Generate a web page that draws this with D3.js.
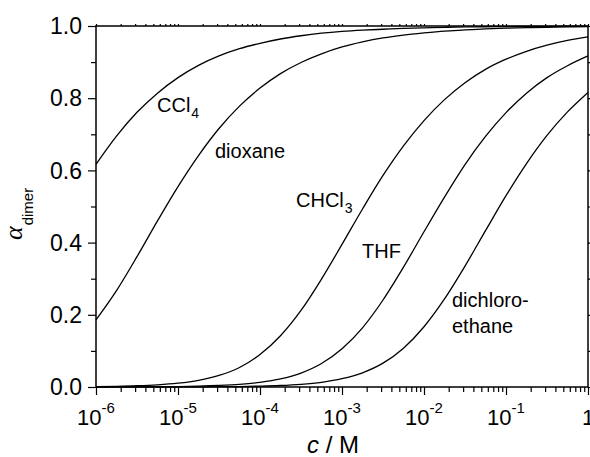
<!DOCTYPE html>
<html>
<head>
<meta charset="utf-8">
<script src="https://cdn.jsdelivr.net/npm/d3@7/dist/d3.min.js"></script>
<style>
  html, body { margin: 0; padding: 0; background: #fff; }
  svg { display: block; font-family: "Liberation Sans", Arial, sans-serif; }
</style>
</head>
<body>
<svg id="chart" width="590" height="457"></svg>
<script>
// Concentration grid (log10 of c / M), quarter-decade steps
const logConc = [-6, -5.75, -5.5, -5.25, -5, -4.75, -4.5, -4.25, -4, -3.75, -3.5, -3.25,
                 -3, -2.75, -2.5, -2.25, -2, -1.75, -1.5, -1.25, -1, -0.75, -0.5, -0.25, 0];

// Fraction of molecules in the dimer, per solvent
const alphaCCl4 = [0.617, 0.695, 0.761, 0.814, 0.857, 0.891, 0.917, 0.937, 0.952, 0.964, 0.973, 0.980,
                   0.985, 0.9885, 0.991, 0.9935, 0.995, 0.9964, 0.9973, 0.9979, 0.9985, 0.9988, 0.9991, 0.9993, 0.9995];
const alphaDioxane = [0.186, 0.267, 0.361, 0.460, 0.555, 0.641, 0.716, 0.778, 0.828, 0.868, 0.899, 0.923,
                      0.942, 0.956, 0.967, 0.975, 0.981, 0.986, 0.989, 0.992, 0.994, 0.9955, 0.9966, 0.9975, 0.9981];
const alphaCHCl3 = [0.0011, 0.0019, 0.0034, 0.0060, 0.0106, 0.0185, 0.032, 0.054, 0.090, 0.142, 0.212, 0.299,
                    0.395, 0.493, 0.586, 0.668, 0.738, 0.796, 0.843, 0.880, 0.908, 0.930, 0.947, 0.960, 0.970];
const alphaTHF = [0.0001, 0.0002, 0.0004, 0.0007, 0.0013, 0.0023, 0.0042, 0.0073, 0.0129, 0.0224, 0.0386, 0.065,
                  0.106, 0.164, 0.241, 0.332, 0.430, 0.526, 0.616, 0.694, 0.760, 0.814, 0.857, 0.890, 0.917];
const alphaDCE = [0.0000, 0.0001, 0.0001, 0.0001, 0.0002, 0.0004, 0.0008, 0.0013, 0.0024, 0.0042, 0.0075, 0.0131,
                  0.0229, 0.0394, 0.066, 0.1075, 0.167, 0.244, 0.335, 0.433, 0.530, 0.619, 0.697, 0.762, 0.816];

const seriesValues = [alphaCCl4, alphaDioxane, alphaCHCl3, alphaTHF, alphaDCE];

// Axis ticks
const xMajorExp = [-6, -5, -4, -3, -2, -1, 0];
const yMajor = [0.0, 0.2, 0.4, 0.6, 0.8, 1.0];
const yMinor = [0.1, 0.3, 0.5, 0.7, 0.9];

const svg = d3.select("#chart");
const plotL = 96, plotR = 588, plotT = 26, plotB = 387;

const x = d3.scaleLog().domain([1e-6, 1]).range([plotL, plotR]);
const y = d3.scaleLinear().domain([0, 1]).range([plotB, plotT]);

const xMajor = xMajorExp.map(e => Math.pow(10, e));
const xMinor = [];
xMajorExp.slice(0, -1).forEach(e => { for (let m = 2; m <= 9; m++) xMinor.push(m * Math.pow(10, e)); });

function styleAxis(g) {
  g.select(".domain").remove();
  g.selectAll(".tick line").attr("stroke", "#000").attr("stroke-width", 1.2);
}

// bottom ticks (outward)
svg.append("g").attr("transform", `translate(0,${plotB})`)
  .call(d3.axisBottom(x).tickValues(xMajor).tickSize(8).tickFormat("")).call(styleAxis);
svg.append("g").attr("transform", `translate(0,${plotB})`)
  .call(d3.axisBottom(x).tickValues(xMinor).tickSize(5).tickFormat("")).call(styleAxis);
// top ticks (short, outward)
svg.append("g").attr("transform", `translate(0,${plotT})`)
  .call(d3.axisTop(x).tickValues(xMajor.concat(xMinor)).tickSize(2).tickFormat("")).call(styleAxis);
// left ticks (outward)
svg.append("g").attr("transform", `translate(${plotL},0)`)
  .call(d3.axisLeft(y).tickValues(yMajor).tickSize(8).tickFormat("")).call(styleAxis);
svg.append("g").attr("transform", `translate(${plotL},0)`)
  .call(d3.axisLeft(y).tickValues(yMinor).tickSize(5).tickFormat("")).call(styleAxis);
// right ticks (short, outward)
svg.append("g").attr("transform", `translate(${plotR},0)`)
  .call(d3.axisRight(y).tickValues(yMajor.concat(yMinor)).tickSize(2).tickFormat("")).call(styleAxis);

// frame
svg.append("rect")
  .attr("x", plotL).attr("y", plotT)
  .attr("width", plotR - plotL).attr("height", plotB - plotT)
  .attr("fill", "none").attr("stroke", "#000").attr("stroke-width", 1.5);

// curves
const line = d3.line()
  .x((d, i) => x(Math.pow(10, logConc[i])))
  .y(d => y(d))
  .curve(d3.curveMonotoneX);

svg.append("g").selectAll("path").data(seriesValues).join("path")
  .attr("d", d => line(d))
  .attr("fill", "none")
  .attr("stroke", "#000")
  .attr("stroke-width", 1.3);

// y tick labels
svg.append("g").selectAll("text").data(yMajor).join("text")
  .attr("x", 82).attr("y", d => y(d)).attr("dy", "0.36em")
  .attr("text-anchor", "end").attr("font-size", 23)
  .text(d => d.toFixed(1));

// x tick labels: 10^n
const xl = svg.append("g").selectAll("text").data(xMajorExp).join("text")
  .attr("x", d => x(Math.pow(10, d))).attr("y", 425)
  .attr("text-anchor", "middle").attr("font-size", 22);
xl.append("tspan").text(d => d === 0 ? "1" : "10");
xl.filter(d => d !== 0).append("tspan")
  .attr("font-size", 15).attr("dy", -12).text(d => "-" + Math.abs(d));

// axis titles
const yt = svg.append("text")
  .attr("transform", "translate(22,240) rotate(-90)")
  .attr("font-size", 26);
yt.append("tspan").attr("font-style", "italic").attr("font-family", "'Liberation Serif', serif").text("α");
yt.append("tspan").attr("font-size", 15).attr("dy", 11).attr("dx", 1).text("dimer");

const xt = svg.append("text").attr("x", 307).attr("y", 453).attr("font-size", 24);
xt.append("tspan").attr("font-style", "italic").text("c");
xt.append("tspan").text(" / M");

// curve labels
const labels = [
  { main: "CCl", sub: "4", x: 157, y: 112 },
  { main: "dioxane", sub: "", x: 215, y: 158 },
  { main: "CHCl", sub: "3", x: 296, y: 207 },
  { main: "THF", sub: "", x: 362, y: 258 },
  { main: "dichloro-", sub: "", x: 452, y: 307 },
  { main: "ethane", sub: "", x: 452, y: 333 }
];
const lt = svg.append("g").selectAll("text").data(labels).join("text")
  .attr("x", d => d.x).attr("y", d => d.y).attr("font-size", 20);
lt.append("tspan").text(d => d.main);
lt.filter(d => d.sub).append("tspan").attr("font-size", 14).attr("dy", 6).attr("dx", 1).text(d => d.sub);
</script>
</body>
</html>
